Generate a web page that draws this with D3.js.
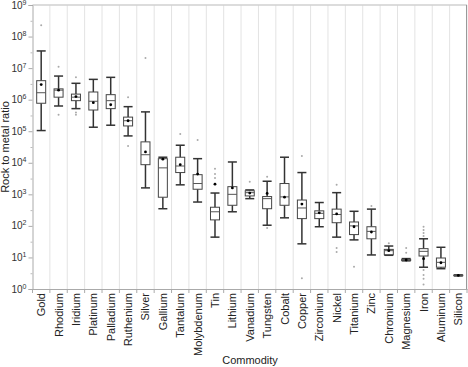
<!DOCTYPE html>
<html><head><meta charset="utf-8">
<script src="https://cdn.jsdelivr.net/npm/d3@7"></script>
<style>body{margin:0;background:#fff}svg{display:block}text{font-family:"Liberation Sans",Arial,sans-serif}</style>
</head><body><svg id="c" width="468" height="367"></svg>
<script>
const categories = ["Gold","Rhodium","Iridium","Platinum","Palladium","Ruthenium","Silver","Gallium","Tantalum","Molybdenum","Tin","Lithium","Vanadium","Tungsten","Cobalt","Copper","Zirconium","Nickel","Titanium","Zinc","Chromium","Magnesium","Iron","Aluminum","Silicon"];
const whiskerLow  = [1.05e5,6.3e5,5.2e5,1.34e5,1.55e5,7.1e4,1.6e3,3.5e2,2.0e3,5.7e2,44,2.8e2,7.3e2,1.05e2,1.8e2,27,94,44,36,12,11.7,7.8,4.9,4.4,2.6];
const q1          = [7.7e5,1.2e6,9.3e5,4.7e5,5.2e5,1.47e5,8.7e3,8.1e2,4.9e3,1.45e3,1.55e2,4.5e2,8.9e2,3.5e2,4.5e2,1.7e2,1.7e2,1.26e2,53,39,12.2,8.0,11.1,4.9,2.65];
const medians     = [1.66e6,2.0e6,1.2e6,8.9e5,9.3e5,2.15e5,1.8e4,6.9e3,7.9e3,2.2e3,2.8e2,1.0e3,1.13e3,7.3e2,8.3e2,3.7e2,2.5e2,2.3e2,100,67,16.4,8.4,15.6,7.0,2.7];
const q3          = [4.0e6,2.2e6,1.5e6,1.75e6,1.44e6,2.8e5,4.6e4,1.35e4,1.5e4,4.2e3,3.9e2,1.75e3,1.3e3,8.5e2,2.2e3,6.6e2,3.0e2,3.4e2,1.33e2,94,18,8.7,19,9.6,2.75];
const whiskerHigh = [3.5e7,5.6e6,3.3e6,4.4e6,5.1e6,6.0e5,4.1e5,1.5e4,3.6e4,1.35e4,1.1e3,1.06e4,1.38e3,2.6e3,1.5e4,4.9e3,5.5e2,1.13e3,2.9e2,3.4e2,23,9.2,39,21,2.8];
const means       = [3.0e6,2.0e6,1.25e6,8.0e5,6.9e5,2.15e5,2.2e4,1.3e4,8.7e3,4.4e3,2.1e3,1.6e3,1.1e3,1.07e3,8.1e2,4.9e2,2.6e2,2.4e2,94,64,16.4,8.3,9.1,6.8,2.7];
const outliers    = [[2.3e8],[1.1e7,3.3e5],[5.1e6,3.9e5,3.3e5],[],[],[1.2e6,3.4e4],[2.1e7],[],[8.2e4],[5.3e4],[6.5e3,4.4e3,3.3e3],[],[2.5e3],[3.6e3,86],[],[1.65e4,2.2],[],[2.0e3,20,15],[5.1],[4.3e2],[28],[20,14],[94,74,59,48,4.0,2.8,2.1,1.4],[],[]];
const yTicks = [1,10,100,1e3,1e4,1e5,1e6,1e7,1e8,1e9];
const yMinorTicks = [3.16,31.6,316,3.16e3,3.16e4,3.16e5,3.16e6,3.16e7,3.16e8];

const svg = d3.select("#c");
const mLeft = 32.5, mRight = 467, mTop = 5, mBottom = 289;
const x = d3.scaleBand().domain(categories).range([mLeft, mRight]).paddingInner(0).paddingOuter(0);
const y = d3.scaleLog().domain([1, 1e9]).range([mBottom, mTop]);
const bw = 9;

const bounds = categories.map(c => x(c)).concat([mRight]);
svg.append("g").selectAll("line").data(bounds.slice(1)).join("line")
  .attr("x1", d => d).attr("x2", d => d).attr("y1", mTop).attr("y2", mBottom)
  .attr("stroke", "#e3e3e3").attr("stroke-width", 1);
svg.append("line").attr("x1", mLeft).attr("x2", mRight).attr("y1", mTop).attr("y2", mTop)
  .attr("stroke", "#d0d0d0").attr("stroke-width", 1.5);
svg.append("line").attr("x1", mRight - 0.5).attr("x2", mRight - 0.5).attr("y1", mTop).attr("y2", mBottom)
  .attr("stroke", "#999").attr("stroke-width", 1);

const gy = svg.append("g").attr("transform", `translate(${mLeft},0)`)
  .call(d3.axisLeft(y).tickValues(yTicks).tickSize(4).tickFormat(() => ""));
gy.select(".domain").attr("stroke", "#aaa");
gy.selectAll(".tick line").attr("stroke", "#aaa");
svg.append("g").attr("transform", `translate(${mLeft},0)`)
  .call(d3.axisLeft(y).tickValues(yMinorTicks).tickSize(2).tickFormat(() => ""))
  .call(g => g.select(".domain").remove())
  .selectAll(".tick line").attr("stroke", "#bbb");
const yl = svg.append("g").selectAll("text").data(yTicks).join("text")
  .attr("x", mLeft - 6).attr("y", d => y(d) + 3.5).attr("text-anchor", "end")
  .attr("font-size", 10).attr("fill", "#333");
yl.append("tspan").text("10");
yl.append("tspan").attr("dy", -4).attr("font-size", 7).text(d => Math.round(Math.log10(d)));

const gx = svg.append("g").attr("transform", `translate(0,${mBottom})`)
  .call(d3.axisBottom(x).tickSize(0).tickFormat(""));
gx.select(".domain").attr("stroke", "#aaa");
svg.append("g").selectAll("line").data(bounds).join("line")
  .attr("x1", d => d).attr("x2", d => d).attr("y1", mBottom).attr("y2", mBottom + 4)
  .attr("stroke", "#aaa");
svg.append("g").selectAll("text").data(categories).join("text")
  .attr("transform", d => `translate(${x(d) + x.bandwidth() / 2 + 4},${mBottom + 4}) rotate(-90)`)
  .attr("text-anchor", "end").attr("font-size", 11).attr("fill", "#222").text(d => d);

svg.append("text").attr("x", 250).attr("y", 364).attr("text-anchor", "middle")
  .attr("font-size", 11).attr("fill", "#222").text("Commodity");
svg.append("text").attr("transform", `translate(9,147) rotate(-90)`).attr("text-anchor", "middle")
  .attr("font-size", 11).attr("fill", "#222").text("Rock to metal ratio");

const g = svg.append("g");
categories.forEach((c, i) => {
  const cx = x(c) + x.bandwidth() / 2;
  const gg = g.append("g");
  gg.selectAll("circle.o").data(outliers[i]).join("circle").attr("class", "o")
    .attr("cx", cx).attr("cy", d => y(d)).attr("r", 1).attr("fill", "#aaa");
  gg.append("line").attr("x1", cx).attr("x2", cx).attr("y1", y(whiskerHigh[i])).attr("y2", y(q3[i]))
    .attr("stroke", "#333").attr("stroke-width", 1.5);
  gg.append("line").attr("x1", cx).attr("x2", cx).attr("y1", y(q1[i])).attr("y2", y(whiskerLow[i]))
    .attr("stroke", "#333").attr("stroke-width", 1.5);
  [whiskerHigh[i], whiskerLow[i]].forEach(v => {
    gg.append("line").attr("x1", cx - bw / 2).attr("x2", cx + bw / 2).attr("y1", y(v)).attr("y2", y(v))
      .attr("stroke", "#333").attr("stroke-width", 1.5);
  });
  gg.append("rect").attr("x", cx - bw / 2).attr("width", bw)
    .attr("y", y(q3[i])).attr("height", Math.max(0.5, y(q1[i]) - y(q3[i])))
    .attr("fill", "#fff").attr("fill-opacity", 0.6).attr("stroke", "#444").attr("stroke-width", 1);
  gg.append("line").attr("x1", cx - bw / 2).attr("x2", cx + bw / 2).attr("y1", y(medians[i])).attr("y2", y(medians[i]))
    .attr("stroke", "#555").attr("stroke-width", 1);
  gg.append("circle").attr("cx", cx).attr("cy", y(means[i])).attr("r", 1.4).attr("fill", "#000");
});
</script></body></html>
